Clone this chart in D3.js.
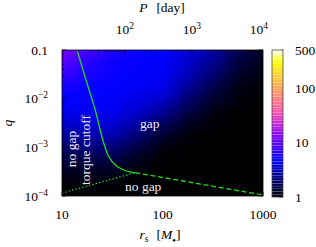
<!DOCTYPE html>
<html>
<head>
<meta charset="utf-8">
<script src="https://cdn.jsdelivr.net/npm/d3@7"></script>
<style>
  body { margin: 0; background: #fff; }
  svg text { font-family: "Liberation Serif", serif; font-size: 13.5px; fill: #000; }
</style>
</head>
<body>
<svg id="chart" width="316" height="247"></svg>
<script>
// grid nodes of the gap-depth map (quarter decades)
const rNodes = [10, 17.8, 31.6, 56.2, 100, 178, 316, 562, 1000];
const qNodes = [1e-1, 5.62e-2, 3.16e-2, 1.78e-2, 1e-2, 5.62e-3, 3.16e-3, 1.78e-3,
                1e-3, 5.62e-4, 3.16e-4, 1.78e-4, 1e-4];
// depth values, one row per q node (top to bottom)
const depthRows = [
  [12.5, 8.00, 5.90, 5.00, 4.73, 3.69, 2.70, 1.64, 1.28],
  [9.50, 6.50, 5.20, 4.80, 4.60, 3.47, 2.39, 1.45, 1.17],
  [7.20, 5.60, 4.90, 4.70, 4.50, 3.06, 1.98, 1.28, 1.08],
  [5.60, 4.90, 4.75, 4.44, 4.18, 2.54, 1.59, 1.15, 1.02],
  [4.80, 4.70, 4.60, 4.05, 3.47, 1.98, 1.32, 1.06, 1.00],
  [4.18, 4.44, 4.31, 3.47, 2.54, 1.55, 1.13, 1.02, 1.00],
  [3.47, 3.69, 3.69, 2.70, 1.81, 1.24, 1.04, 1.00, 1.00],
  [2.54, 2.88, 2.88, 1.98, 1.32, 1.08, 1.00, 1.00, 1.00],
  [1.86, 2.11, 2.04, 1.50, 1.10, 1.00, 1.00, 1.00, 1.00],
  [1.45, 1.55, 1.50, 1.21, 1.02, 1.00, 1.00, 1.00, 1.00],
  [1.21, 1.24, 1.21, 1.06, 1.00, 1.00, 1.00, 1.00, 1.00],
  [1.06, 1.08, 1.06, 1.01, 1.00, 1.00, 1.00, 1.00, 1.00],
  [1.00, 1.00, 1.00, 1.00, 1.00, 1.00, 1.00, 1.00, 1.00]
];

// torque cutoff (solid), gap edge (dashed) and no-gap edge (dotted)
const cutoffR = [14.1, 17.7, 21.4, 24.0, 26.0, 29.2, 33.9, 41.1, 49.7, 53.6];
const cutoffQ = [0.1, 0.021, 5.85e-3, 2.27e-3, 1.23e-3, 6.42e-4, 4.34e-4, 3.42e-4, 3.07e-4, 3.01e-4];
const dashR = [53.6, 1000];
const dashQ = [3.01e-4, 1.05e-4];
const dotR = [10, 53.6];
const dotQ = [1.15e-4, 3.01e-4];

const rTicks = [10, 100, 1000];
const rTickLabels = ['10', '100', '1000'];
const qTicks = [0.1, 0.01, 0.001, 0.0001];
const qTickLabels = [['0.1', ''], ['10', '\u22122'], ['10', '\u22123'], ['10', '\u22124']];
const pTicks = [100, 1000, 10000];
const pTickLabels = [['10', '2'], ['10', '3'], ['10', '4']];
const cbTicks = [1, 10, 100, 500];
const cbTickLabels = ['1', '10', '100', '500'];

const pLeft = 62, pRight = 263, pTop = 50, pBottom = 196;
const svg = d3.select('#chart');

const x = d3.scaleLog().domain([10, 1000]).range([pLeft, pRight]);
const y = d3.scaleLog().domain([1e-4, 0.1]).range([pBottom, pTop]);
// orbital period for the top axis, P ~ r^1.5
const pOf = r => 0.363 * Math.pow(r, 1.5);
const xp = d3.scaleLog().domain([pOf(10), pOf(1000)]).range([pLeft, pRight]);

// matplotlib gnuplot2
function gnuplot2(t) {
  const c = v => Math.max(0, Math.min(1, v));
  const r = c(t / 0.32 - 0.78125);
  const g = c(2 * t - 0.84);
  let b;
  if (t < 0.25) b = 4 * t;
  else if (t < 0.42) b = 1;
  else if (t < 0.92) b = -2 * t + 1.84;
  else b = t / 0.08 - 11.5;
  b = c(b);
  return d3.rgb(r * 255, g * 255, b * 255).toString();
}
const color = d3.scaleSequentialLog().domain([1, 500]).interpolator(gnuplot2);

// heat map: one pixel per node, smoothed by the browser when stretched
const canvas = document.createElement('canvas');
canvas.width = rNodes.length;
canvas.height = qNodes.length;
const ctx = canvas.getContext('2d');
depthRows.forEach((row, j) => {
  row.forEach((v, i) => {
    ctx.fillStyle = color(v);
    ctx.fillRect(i, j, 1, 1);
  });
});
const half = Math.pow(10, 0.125);

svg.append('clipPath').attr('id', 'plotclip')
  .append('rect').attr('x', pLeft).attr('y', pTop)
  .attr('width', pRight - pLeft).attr('height', pBottom - pTop);

const plot = svg.append('g').attr('clip-path', 'url(#plotclip)');
plot.append('image')
  .attr('href', canvas.toDataURL())
  .attr('x', x(10 / half))
  .attr('y', y(0.1 * half))
  .attr('width', x(1000 * half) - x(10 / half))
  .attr('height', y(1e-4 / half) - y(0.1 * half))
  .attr('preserveAspectRatio', 'none');

const line = d3.line().x(d => x(d[0])).y(d => y(d[1]));
const green = '#1fdc1f';
plot.append('path')
  .attr('d', d3.line().x(d => x(d[0])).y(d => y(d[1])).curve(d3.curveCatmullRom)(d3.zip(cutoffR, cutoffQ)))
  .attr('fill', 'none').attr('stroke', green).attr('stroke-width', 1.3);
plot.append('path')
  .attr('d', line(d3.zip(dashR, dashQ)))
  .attr('fill', 'none').attr('stroke', green).attr('stroke-width', 1.3)
  .attr('stroke-dasharray', '5,2.7');
plot.append('path')
  .attr('d', line(d3.zip(dotR, dotQ)))
  .attr('fill', 'none').attr('stroke', green).attr('stroke-width', 1.3)
  .attr('stroke-dasharray', '1.3,2.2');

// region labels
const lab = '#ececf4';
svg.append('text').attr('x', 140).attr('y', 128).style('fill', lab).text('gap');
svg.append('text').attr('x', 125).attr('y', 191).style('fill', lab).text('no gap');
svg.append('text').attr('transform', 'translate(76,149) rotate(-90)')
  .attr('text-anchor', 'middle').style('fill', lab).text('no gap');
svg.append('text').attr('transform', 'translate(89.5,150) rotate(-90)')
  .attr('text-anchor', 'middle').style('fill', lab).text('torque cutoff');

// frame
svg.append('rect').attr('x', pLeft).attr('y', pTop)
  .attr('width', pRight - pLeft).attr('height', pBottom - pTop)
  .attr('fill', 'none').attr('stroke', '#000').attr('stroke-width', 0.8);

const isMajor = v => Math.abs(Math.log10(v) - Math.round(Math.log10(v))) < 1e-6;
const ticks = svg.append('g').attr('stroke', '#000').attr('stroke-width', 0.7);

// bottom and top ticks, left and right ticks (all inward)
x.ticks().forEach(v => {
  const len = isMajor(v) ? 4 : 2;
  ticks.append('line').attr('x1', x(v)).attr('x2', x(v)).attr('y1', pBottom).attr('y2', pBottom - len);
});
xp.ticks().forEach(v => {
  const len = isMajor(v) ? 4 : 2;
  ticks.append('line').attr('x1', xp(v)).attr('x2', xp(v)).attr('y1', pTop).attr('y2', pTop + len);
});
y.ticks().forEach(v => {
  const len = isMajor(v) ? 4 : 2;
  ticks.append('line').attr('y1', y(v)).attr('y2', y(v)).attr('x1', pLeft).attr('x2', pLeft + len);
  ticks.append('line').attr('y1', y(v)).attr('y2', y(v)).attr('x1', pRight).attr('x2', pRight - len);
});

// tick labels
rTicks.forEach((v, i) => {
  svg.append('text').attr('x', x(v)).attr('y', 219).attr('text-anchor', 'middle').text(rTickLabels[i]);
});
qTicks.forEach((v, i) => {
  const t = svg.append('text').attr('x', 48).attr('y', y(v) + 4.5).attr('text-anchor', 'end');
  t.append('tspan').text(qTickLabels[i][0]);
  if (qTickLabels[i][1]) t.append('tspan').attr('dy', -5).style('font-size', '9.5px').text(qTickLabels[i][1]);
});
pTicks.forEach((v, i) => {
  const t = svg.append('text').attr('x', xp(v)).attr('y', 34).attr('text-anchor', 'middle');
  t.append('tspan').text(pTickLabels[i][0]);
  t.append('tspan').attr('dy', -5).style('font-size', '9.5px').text(pTickLabels[i][1]);
});

// axis titles
const xt = svg.append('text').attr('x', 160).attr('y', 239).attr('text-anchor', 'middle');
xt.append('tspan').style('font-style', 'italic').text('r');
xt.append('tspan').attr('dy', 2.5).style('font-size', '9.5px').text('s');
xt.append('tspan').attr('dy', -2.5).attr('dx', 8).text('[');
xt.append('tspan').style('font-style', 'italic').text('M');
xt.append('tspan').attr('dy', 2.5).style('font-size', '6px').text('\u25CF');
xt.append('tspan').attr('dy', -2.5).text(']');

const pt = svg.append('text').attr('x', 162).attr('y', 12).attr('text-anchor', 'middle');
pt.append('tspan').style('font-style', 'italic').text('P');
pt.append('tspan').attr('dx', 9).text('[day]');

svg.append('text').attr('transform', 'translate(12,123) rotate(-90)')
  .attr('text-anchor', 'middle').style('font-style', 'italic').text('q');

// colour bar
const cbLeft = 272, cbRight = 283;
const cb = d3.scaleLog().domain([1, 500]).range([197, 50]);
const nBands = 54;
const bandEdges = d3.range(nBands + 1).map(k => Math.pow(500, k / nBands));
const cbg = svg.append('g');
for (let k = 0; k < nBands; k++) {
  const v0 = bandEdges[k], v1 = bandEdges[k + 1];
  cbg.append('rect')
    .attr('x', cbLeft).attr('width', cbRight - cbLeft)
    .attr('y', cb(v1)).attr('height', cb(v0) - cb(v1))
    .attr('fill', color(Math.sqrt(v0 * v1)))
    .attr('stroke', 'rgba(255,255,255,0.18)').attr('stroke-width', 0.5);
}
cbg.append('rect').attr('x', cbLeft).attr('y', 50)
  .attr('width', cbRight - cbLeft).attr('height', 147)
  .attr('fill', 'none').attr('stroke', '#333').attr('stroke-width', 0.7);
cb.ticks().filter(v => v <= 500).forEach(v => {
  const len = isMajor(v) ? 4 : 2;
  ticks.append('line').attr('y1', cb(v)).attr('y2', cb(v)).attr('x1', cbRight).attr('x2', cbRight - len);
});
cbTicks.forEach((v, i) => {
  svg.append('text').attr('x', 295).attr('y', cb(v) + 4.5).text(cbTickLabels[i]);
});
</script>
</body>
</html>
